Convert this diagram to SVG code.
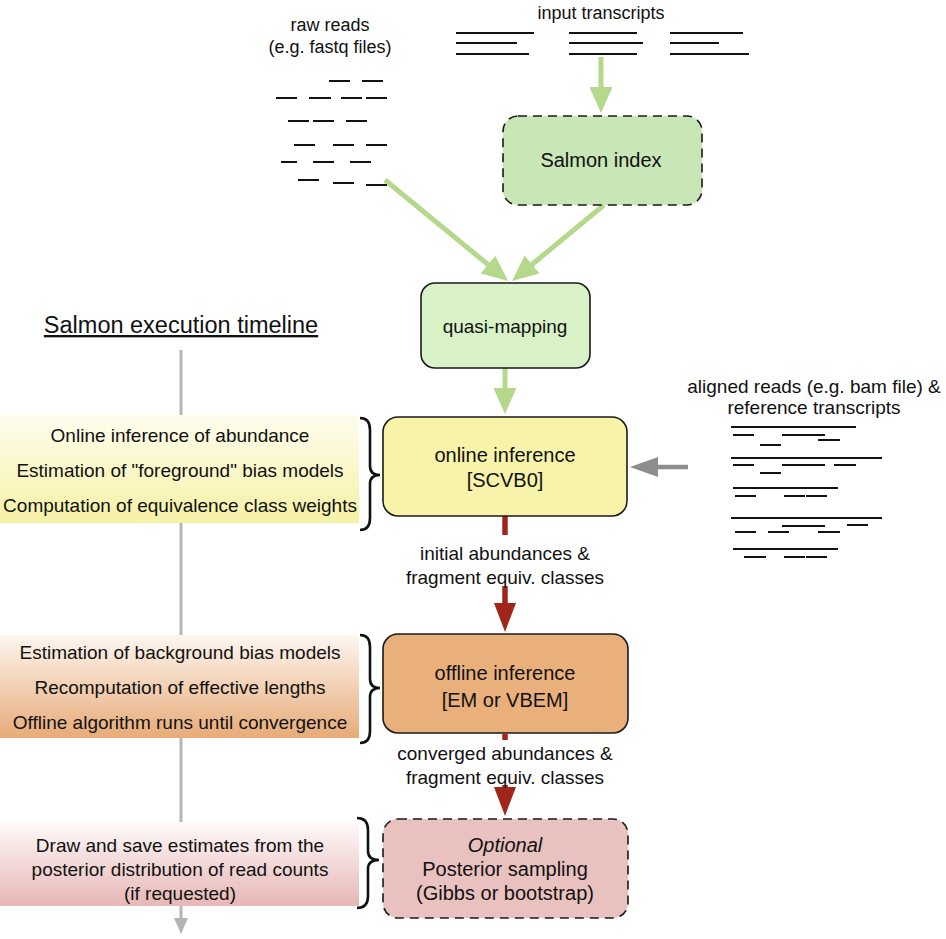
<svg xmlns="http://www.w3.org/2000/svg" width="946" height="939" viewBox="0 0 946 939">
<style>
text{font-family:"Liberation Sans",Arial,sans-serif;fill:#111;text-anchor:middle}
.t18{font-size:18px}
.t19{font-size:19px}
.t20{font-size:20px}
.box{stroke:#1a1a1a;stroke-width:1.6}
.dash{stroke-dasharray:9 6}
.rd{stroke:#111;stroke-width:2}
.green{stroke:#b4d88c;stroke-width:5;fill:none}
.red{stroke:#a1261a;stroke-width:5.5;fill:none}
.gray{stroke:#8d8d8d;stroke-width:4.5;fill:none}
.tl{stroke:#b5b5b5;stroke-width:3;fill:none}
.brace{stroke:#111;stroke-width:2.6;fill:none}
</style>
<defs>
<marker id="mg" markerUnits="userSpaceOnUse" markerWidth="27" markerHeight="23" refX="2" refY="11.5" orient="auto"><path d="M0,0 L26,11.5 L0,23 z" fill="#b4d88c"/></marker>
<marker id="mr" markerUnits="userSpaceOnUse" markerWidth="30" markerHeight="22" refX="2" refY="11" orient="auto"><path d="M0,0 L29,11 L0,22 z" fill="#a1261a"/></marker>
<marker id="mgr" markerUnits="userSpaceOnUse" markerWidth="29" markerHeight="20" refX="2" refY="10" orient="auto"><path d="M0,0 L28,10 L0,20 z" fill="#8d8d8d"/></marker>
<marker id="mtl" markerUnits="userSpaceOnUse" markerWidth="17" markerHeight="14" refX="2" refY="7" orient="auto"><path d="M0,0 L16,7 L0,14 z" fill="#b5b5b5"/></marker>
<linearGradient id="gy" x1="0" y1="0" x2="0" y2="1"><stop offset="0" stop-color="#fefdee"/><stop offset="1" stop-color="#f6f1a6"/></linearGradient>
<linearGradient id="go" x1="0" y1="0" x2="0" y2="1"><stop offset="0" stop-color="#fdf6f0"/><stop offset="1" stop-color="#e7ab78"/></linearGradient>
<linearGradient id="gp" x1="0" y1="0" x2="0" y2="1"><stop offset="0" stop-color="#fefafa"/><stop offset="1" stop-color="#e6b7b5"/></linearGradient>
</defs>

<!-- timeline -->
<g id="timeline">
<text x="181" y="333" style="font-size:23.5px;text-decoration:underline">Salmon execution timeline</text>
<line class="tl" x1="181" y1="350" x2="181" y2="920" marker-end="url(#mtl)"/>
</g>

<g id="connectors">
<line class="green" x1="601" y1="57" x2="601" y2="89" marker-end="url(#mg)"/>
<line class="green" x1="385" y1="180" x2="489.5" y2="265.8" marker-end="url(#mg)"/>
<line class="green" x1="604" y1="205" x2="530.5" y2="265.7" marker-end="url(#mg)"/>
<line class="green" x1="505" y1="368" x2="505" y2="390" marker-end="url(#mg)"/>
<line class="gray" x1="688" y1="467" x2="656" y2="467" marker-end="url(#mgr)"/>
<line class="red" x1="505" y1="516" x2="505" y2="535"/>
<line class="red" x1="505" y1="586" x2="505" y2="605" marker-end="url(#mr)"/>
<line class="red" x1="505" y1="734" x2="505" y2="740"/>
<line class="red" x1="505" y1="785" x2="505" y2="789" marker-end="url(#mr)"/>
</g>

<g id="raw-reads">
<text class="t18" x="330" y="31">raw reads</text>
<text class="t18" x="330" y="53">(e.g. fastq files)</text>
<path class="rd" d="M329,81h21M362,81h21M276,98h21M309,98h22M341,98h21M366,98h21M288,121h21M313,121h21M346,121h21M294,145h21M333,145h21M366,145h21M281,162h16M313,162h21M350,162h21M298,180h21M333,183h21M366,185h21"/>
</g>

<g id="input-transcripts">
<text class="t18" x="601" y="19">input transcripts</text>
<path class="rd" d="M456,33h78M456,43h61M456,54h73M569,33h68M569,43h74M569,54h68M670,33h73M670,43h49M670,54h79"/>
</g>

<g id="aligned-reads">
<text class="t19" x="814" y="393">aligned reads (e.g. bam file) &amp;</text>
<text class="t19" x="814" y="414">reference transcripts</text>
<path class="rd" d="M731,427h125M733,435h21M782,435h22M804,435h21M818,440h22M760,445h21
M731,458h151M733,465h21M782,465h22M804,465h21M834,465h22M760,473h21
M733,488h105M735,496h21M784,496h21M806,496h21
M731,518h151M782,526h22M804,526h21M847,525h21M735,532h21M768,532h21M818,532h22
M733,549h105M744,557h22M784,557h21M806,557h21"/>
</g>

<g id="salmon-index">
<rect class="box dash" x="503" y="116" width="199" height="89" rx="15" fill="#c8e6b6"/>
<text class="t20" x="601" y="167">Salmon index</text>
</g>

<g id="quasi-mapping">
<rect class="box" x="421" y="283" width="169" height="85" rx="14" fill="#daf2c7"/>
<text class="t19" x="505" y="333">quasi-mapping</text>
</g>

<g id="online-inference">
<rect class="box" x="383" y="417" width="244" height="99" rx="15" fill="#f7f3a8"/>
<text class="t20" x="505" y="462">online inference</text>
<text class="t20" x="505" y="487">[SCVB0]</text>
</g>

<g id="label-initial">
<text class="t19" x="505" y="560">initial abundances &amp;</text>
<text class="t19" x="505" y="584">fragment equiv. classes</text>
</g>

<g id="offline-inference">
<rect class="box" x="383" y="634" width="245" height="99" rx="15" fill="#e9b07b"/>
<text class="t20" x="505" y="680">offline inference</text>
<text class="t20" x="505" y="707">[EM or VBEM]</text>
</g>

<g id="label-converged">
<text class="t19" x="505" y="760">converged abundances &amp;</text>
<text class="t19" x="505" y="784">fragment equiv. classes</text>
</g>

<g id="posterior-sampling">
<rect class="box dash" x="383" y="819" width="245" height="99" rx="15" fill="#e9c2bf"/>
<text class="t20" x="505" y="852" font-style="italic">Optional</text>
<text class="t20" x="505" y="876">Posterior sampling</text>
<text class="t20" x="505" y="900">(Gibbs or bootstrap)</text>
</g>

<g id="panel-online">
<rect x="0" y="415" width="359" height="108" fill="url(#gy)"/>
<text class="t19" x="180" y="442">Online inference of abundance</text>
<text class="t19" x="180" y="477">Estimation of "foreground" bias models</text>
<text class="t19" x="180" y="512">Computation of equivalence class weights</text>
<path class="brace" d="M360,418 Q370,418 370,430 L370,466 Q370,475 380,475 Q370,475 370,484 L370,518 Q370,530 360,530"/>
</g>

<g id="panel-offline">
<rect x="0" y="635" width="359" height="103" fill="url(#go)"/>
<text class="t19" x="180" y="659">Estimation of background bias models</text>
<text class="t19" x="180" y="694">Recomputation of effective lengths</text>
<text class="t19" x="180" y="729">Offline algorithm runs until convergence</text>
<path class="brace" d="M360,635 Q370,635 370,647 L370,679 Q370,688 380,688 Q370,688 370,697 L370,731 Q370,743 360,743"/>
</g>

<g id="panel-posterior">
<rect x="0" y="822" width="359" height="84" fill="url(#gp)"/>
<text class="t19" x="180" y="852">Draw and save estimates from the</text>
<text class="t19" x="180" y="876">posterior distribution of read counts</text>
<text class="t19" x="180" y="900">(if requested)</text>
<path class="brace" d="M357,818 Q368,818 368,830 L368,851 Q368,860 379,860 Q368,860 368,869 L368,896 Q368,908 357,908"/>
</g>
</svg>
